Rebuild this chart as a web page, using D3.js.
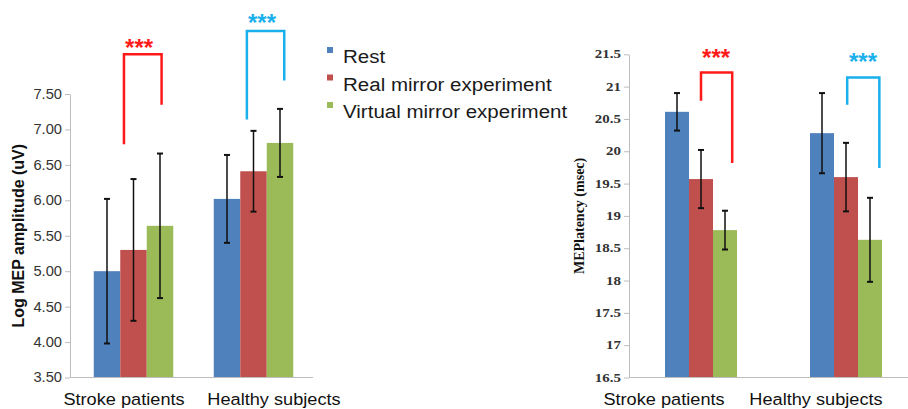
<!DOCTYPE html>
<html>
<head>
<meta charset="utf-8">
<script src="https://cdn.jsdelivr.net/npm/d3@7"></script>
<style>
  body { margin: 0; background: #fff; }
  svg { display: block; }
</style>
</head>
<body>
<div id="chart"></div>
<script>
// data
const groups = ["Stroke patients", "Healthy subjects"];
const series = ["Rest", "Real mirror experiment", "Virtual mirror experiment"];
const colors = ["#4f81bd", "#c0504d", "#9bbb59"];

const ampMeans = [[5.00, 5.30, 5.64], [6.02, 6.41, 6.81]];
const ampErrs  = [[1.02, 1.00, 1.02], [0.62, 0.57, 0.48]];
const latMeans = [[20.61, 19.57, 18.78], [20.28, 19.60, 18.63]];
const latErrs  = [[0.29, 0.45, 0.30], [0.62, 0.53, 0.65]];

// significance brackets: x in bar widths from group centre, y in data units
const ampBrackets = [
  { g: 0, color: "#ff1a1a", x1: -0.36, x2: 1.06, top: 8.06, y1: 6.79, y2: 7.35, sx: 0.21, sy: 8.23 },
  { g: 1, color: "#1ab0ec", x1: -0.25, x2: 1.16, top: 8.39, y1: 7.14, y2: 7.69, sx: 0.32, sy: 8.58 }
];
const latBrackets = [
  { g: 0, color: "#ff1a1a", x1: 0.0, x2: 1.3, top: 21.22, y1: 20.78, y2: 19.82, sx: 0.63, sy: 21.54 },
  { g: 1, color: "#1ab0ec", x1: 0.05, x2: 1.39, top: 21.14, y1: 20.72, y2: 19.74, sx: 0.71, sy: 21.47 }
];

const svg = d3.select("#chart").append("svg")
    .attr("width", 908)
    .attr("height", 409);

function drawPanel(cfg) {
  const y = d3.scaleLinear().domain(cfg.domain).range([cfg.bottom, cfg.top]);
  const gx = d3.scalePoint().domain(groups).range(cfg.centers);
  const sx = d3.scaleBand().domain(series).range([-1.5 * cfg.barW, 1.5 * cfg.barW]);
  const lx = d3.scalePoint().domain(groups).range(cfg.labelX);

  const g = svg.append("g");

  // bars
  const grp = g.selectAll(".grp")
    .data(groups)
    .enter().append("g")
    .attr("transform", d => `translate(${gx(d)},0)`);

  grp.selectAll("rect")
    .data((d, i) => cfg.means[i].map((v, j) => ({ v, j })))
    .enter().append("rect")
    .attr("x", d => sx(series[d.j]))
    .attr("width", sx.bandwidth())
    .attr("y", d => y(d.v))
    .attr("height", d => y(cfg.domain[0]) - y(d.v))
    .style("fill", d => colors[d.j]);

  // error bars
  const err = grp.selectAll(".err")
    .data((d, i) => cfg.means[i].map((v, j) => ({ v, e: cfg.errs[i][j], j })))
    .enter().append("g")
    .attr("transform", d => `translate(${sx(series[d.j]) + sx.bandwidth() / 2},0)`)
    .style("stroke", "#111")
    .style("stroke-width", 1.5);
  err.append("line")
    .attr("y1", d => y(d.v - d.e)).attr("y2", d => y(d.v + d.e));
  err.append("line")
    .attr("x1", -3).attr("x2", 3)
    .attr("y1", d => y(d.v + d.e)).attr("y2", d => y(d.v + d.e))
    .style("stroke-width", 2);
  err.append("line")
    .attr("x1", -3).attr("x2", 3)
    .attr("y1", d => y(d.v - d.e)).attr("y2", d => y(d.v - d.e))
    .style("stroke-width", 2);

  // y axis
  const ax = g.append("g")
    .attr("transform", `translate(${cfg.left},0)`)
    .call(d3.axisLeft(y)
      .tickValues(d3.range(cfg.domain[0], cfg.domain[1] + 0.001, 0.5))
      .tickFormat(cfg.fmt)
      .tickSize(5)
      .tickSizeOuter(0));
  ax.select(".domain").style("stroke", "#bdbdbd");
  ax.selectAll(".tick line").style("stroke", "#bdbdbd");
  ax.selectAll(".tick text")
    .attr("x", -8 / cfg.tickScale)
    .attr("transform", `scale(${cfg.tickScale},1)`)
    .style("font-family", cfg.tickFont)
    .style("font-size", cfg.tickSize + "px")
    .style("font-weight", cfg.tickWeight)
    .style("fill", "#333");

  // baseline
  g.append("line")
    .attr("x1", cfg.left).attr("x2", cfg.right)
    .attr("y1", y(cfg.domain[0])).attr("y2", y(cfg.domain[0]))
    .style("stroke", "#bdbdbd");

  // category labels
  g.selectAll(".cat")
    .data(groups)
    .enter().append("text")
    .attr("transform", d => `translate(${lx(d)},405) scale(1.07,1)`)
    .attr("text-anchor", "middle")
    .style("font-family", "'Liberation Sans', Arial, sans-serif")
    .style("font-size", "17px")
    .style("fill", "#111")
    .text(d => d);

  // axis title
  g.append("text")
    .attr("transform", `translate(${cfg.titleX},${(cfg.top + cfg.bottom) / 2}) rotate(-90)`)
    .attr("text-anchor", "middle")
    .style("font-family", cfg.titleFont)
    .style("font-size", cfg.titleSize + "px")
    .style("font-weight", "bold")
    .style("fill", "#111")
    .text(cfg.title);

  // brackets
  const br = g.selectAll(".br")
    .data(cfg.brackets)
    .enter().append("g");
  br.append("path")
    .attr("d", d => {
      const c = gx(groups[d.g]);
      const a = c + d.x1 * cfg.barW, b = c + d.x2 * cfg.barW;
      return `M${a},${y(d.y1)}V${y(d.top)}H${b}V${y(d.y2)}`;
    })
    .style("fill", "none")
    .style("stroke", d => d.color)
    .style("stroke-width", 2.5);
  br.append("text")
    .attr("x", d => gx(groups[d.g]) + d.sx * cfg.barW)
    .attr("y", d => y(d.sy) + 14)
    .attr("text-anchor", "middle")
    .style("font-family", "'Liberation Sans', Arial, sans-serif")
    .style("font-size", "24px")
    .style("font-weight", "bold")
    .style("fill", d => d.color)
    .text("***");
}

drawPanel({
  means: ampMeans, errs: ampErrs, brackets: ampBrackets,
  domain: [3.5, 7.5], fmt: d3.format(".2f"),
  left: 70, right: 313, top: 94, bottom: 377.5,
  centers: [133.5, 253.5], barW: 26.5, labelX: [124, 274],
  tickFont: "'Liberation Sans', Arial, sans-serif", tickSize: 14, tickWeight: "normal", tickScale: 1.05,
  title: "Log MEP amplitude (uV)", titleX: 24, titleFont: "'Liberation Sans', Arial, sans-serif", titleSize: 16
});

drawPanel({
  means: latMeans, errs: latErrs, brackets: latBrackets,
  domain: [16.5, 21.5], fmt: d => String(d),
  left: 629, right: 908, top: 54.3, bottom: 377.5,
  centers: [701, 846], barW: 24, labelX: [664, 816],
  tickFont: "'Liberation Serif', 'Times New Roman', serif", tickSize: 11.5, tickWeight: "bold", tickScale: 1.3,
  title: "MEPlatency (msec)", titleX: 584, titleFont: "'Liberation Serif', 'Times New Roman', serif", titleSize: 14
});

// legend
const legend = svg.append("g")
  .selectAll("g")
  .data(series)
  .enter().append("g")
  .attr("transform", (d, i) => `translate(327,${47 + i * 27.5})`);
legend.append("rect")
  .attr("width", 6).attr("height", 6)
  .style("fill", (d, i) => colors[i]);
legend.append("text")
  .attr("transform", "translate(16,16) scale(1.08,1)")
  .style("font-family", "'Liberation Sans', Arial, sans-serif")
  .style("font-size", "19px")
  .style("fill", "#1a1a1a")
  .text(d => d);
</script>
</body>
</html>
